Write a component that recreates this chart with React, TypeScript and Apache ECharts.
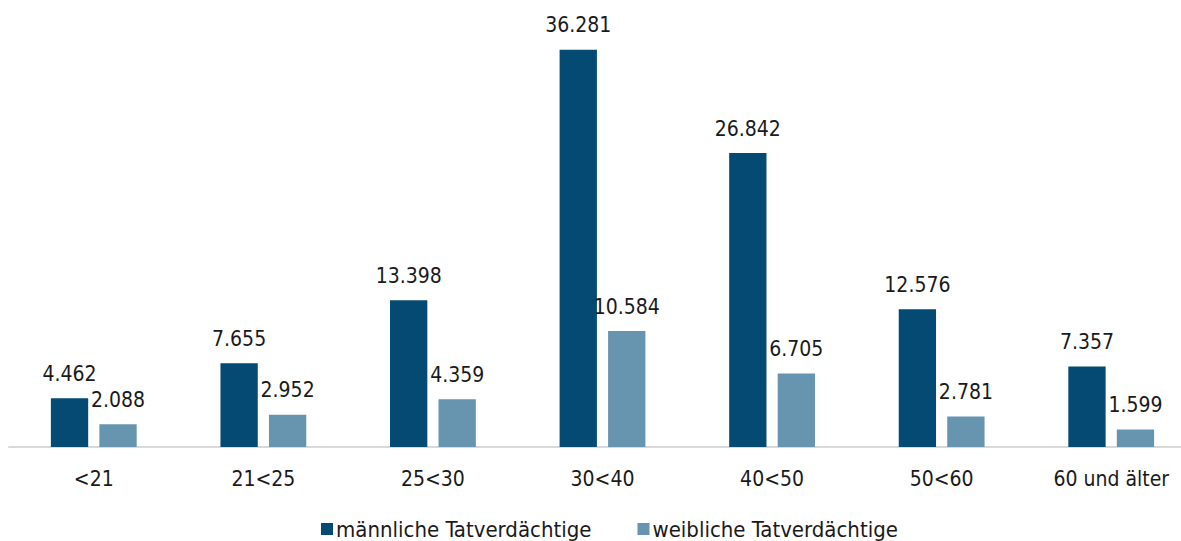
import React, { useEffect, useRef } from "react";
import * as echarts from "echarts";

const categories = ["<21", "21<25", "25<30", "30<40", "40<50", "50<60", "60 und älter"];
const maleValues = [4462, 7655, 13398, 36281, 26842, 12576, 7357];
const femaleValues = [2088, 2952, 4359, 10584, 6705, 2781, 1599];
const seriesNames = ["männliche Tatverdächtige", "weibliche Tatverdächtige"];

const FONT = "'Liberation Sans Narrow', 'DejaVu Sans Condensed', 'Roboto', sans-serif";
const fmt = (v: number) => v.toLocaleString("de-DE");

export default function App() {
  const ref = useRef<HTMLDivElement>(null);
  useEffect(() => {
    if (!ref.current) return;
    const chart = echarts.init(ref.current, null, { renderer: "svg" });
    const label = {
      show: true,
      position: "top" as const,
      distance: 14,
      color: "#1a1a1a",
      fontFamily: FONT,
      fontSize: 21,
      formatter: (p: any) => fmt(p.value),
    };
    chart.setOption({
      animation: false,
      textStyle: { fontFamily: FONT },
      grid: { left: 9, right: 0, top: 9, bottom: 94, containLabel: false },
      legend: {
        bottom: -4,
        left: 316,
        itemWidth: 12,
        itemHeight: 12,
        itemGap: 46,
        icon: "rect",
        textStyle: { fontFamily: FONT, fontSize: 22, color: "#1a1a1a", padding: [0, 0, 0, -2] },
        data: seriesNames,
      },
      xAxis: {
        type: "category",
        data: categories,
        axisLine: { lineStyle: { color: "#d9d9d9", width: 2 } },
        axisTick: { show: false },
        axisLabel: { fontFamily: FONT, fontSize: 21, color: "#1a1a1a", margin: 21, interval: 0 },
      },
      yAxis: {
        type: "value",
        min: 0,
        max: 40000,
        show: false,
        splitLine: { show: false },
      },
      series: [
        {
          name: seriesNames[0],
          type: "bar",
          data: maleValues,
          barWidth: "22%",
          barGap: "30%",
          itemStyle: { color: "#044A73" },
          label,
        },
        {
          name: seriesNames[1],
          type: "bar",
          data: femaleValues,
          barWidth: "22%",
          itemStyle: { color: "#6794AF" },
          label,
        },
      ],
    });
    return () => chart.dispose();
  }, []);
  return (
    <div style={{ position: "fixed", left: 0, top: 0, width: 1181, height: 541, overflow: "hidden", background: "#fff" }}>
      <div ref={ref} style={{ width: 1196, height: 541 }} />
    </div>
  );
}
